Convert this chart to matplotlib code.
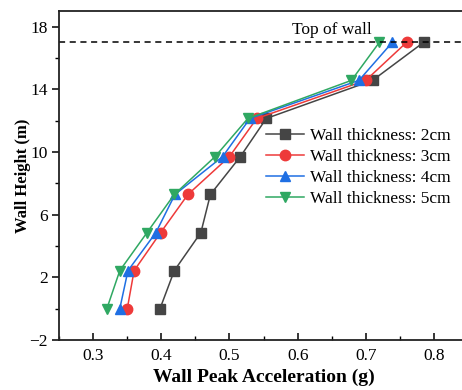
import matplotlib
matplotlib.use("Agg")
import matplotlib.pyplot as plt
from matplotlib.ticker import MultipleLocator

plt.rcParams["font.family"] = ["Liberation Serif", "DejaVu Serif"]

# measurement heights along the wall (m)
heights = [0, 2.43, 4.86, 7.29, 9.71, 12.14, 14.57, 17]

# peak acceleration (g) at each height, one list per wall thickness
acc_2cm = [0.398, 0.419, 0.458, 0.472, 0.516, 0.554, 0.710, 0.785]
acc_3cm = [0.350, 0.360, 0.399, 0.439, 0.500, 0.540, 0.700, 0.760]
acc_4cm = [0.339, 0.351, 0.392, 0.420, 0.490, 0.530, 0.690, 0.739]
acc_5cm = [0.320, 0.339, 0.379, 0.419, 0.479, 0.527, 0.679, 0.720]

labels = ["Wall thickness: 2cm", "Wall thickness: 3cm",
          "Wall thickness: 4cm", "Wall thickness: 5cm"]
wall_top = 17

series = [
    (acc_2cm, "s", "#454545"),
    (acc_3cm, "o", "#EE3A3A"),
    (acc_4cm, "^", "#1F6FE3"),
    (acc_5cm, "v", "#2FA862"),
]

fig = plt.figure(figsize=(4.62, 3.9), dpi=100)
ax = fig.add_axes([0.128, 0.128, 0.885, 0.844])

for (acc, marker, color), label in zip(series, labels):
    ax.plot(acc, heights, marker=marker, color=color, lw=1.1,
            markersize=7.5, label=label)

# dashed marker line for the top of the wall
ax.axhline(wall_top, color="black", lw=1.1, ls=(0, (4, 3)))
ax.text(0.592, 17.3, "Top of wall", fontsize=12.5, ha="left", va="bottom")

ax.set_xlim(0.25, 0.85)
ax.set_ylim(-2, 19)
ax.xaxis.set_minor_locator(MultipleLocator(0.05))
ax.yaxis.set_minor_locator(MultipleLocator(2))
ax.set_yticks([-2, 2, 6, 10, 14, 18])
ax.set_xticks([0.3, 0.4, 0.5, 0.6, 0.7, 0.8])
ax.set_xticklabels(["0.3", "0.4", "0.5", "0.6", "0.7", "0.8"])

ax.tick_params(axis="x", which="major", direction="in", length=5, width=1.1, labelsize=12.5, pad=6)
ax.tick_params(axis="x", which="minor", direction="in", length=3, width=1.0)
ax.tick_params(axis="y", which="major", direction="out", length=5, width=1.1, labelsize=12.5, pad=3)
ax.tick_params(axis="y", which="minor", direction="out", length=3, width=1.0)
for sp in ax.spines.values():
    sp.set_linewidth(1.3)
    sp.set_color("#222222")

ax.set_xlabel("Wall Peak Acceleration (g)", fontsize=14, fontweight="bold", labelpad=3)
ax.set_ylabel("Wall Height (m)", fontsize=12, fontweight="bold", labelpad=-1)

ax.legend(loc="center left", bbox_to_anchor=(0.505, 0.524), frameon=False,
          fontsize=12.5, borderpad=0, borderaxespad=0, handlelength=2.2,
          handletextpad=0.35, labelspacing=0.28)

fig.savefig("out.png", dpi=100)
